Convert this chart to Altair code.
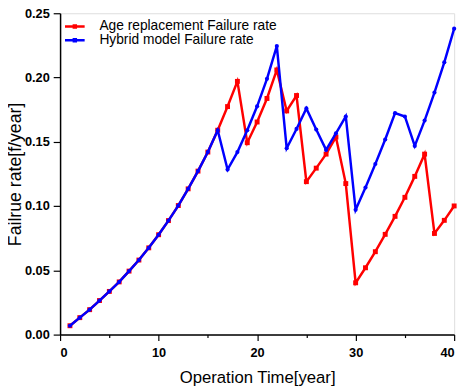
import altair as alt
import pandas as pd

years = list(range(1, 41))
common = [0.0069, 0.0132, 0.0194, 0.0265, 0.0336, 0.0410, 0.0494, 0.0580,
          0.0675, 0.0777, 0.0887, 0.1004, 0.1134, 0.1272, 0.1420, 0.1590]
age_tail = [0.1774, 0.1970, 0.1493, 0.1654, 0.1837, 0.2059, 0.1740, 0.1860,
            0.1190, 0.1295, 0.1404, 0.1537, 0.1175, 0.0403, 0.0520, 0.0645,
            0.0780, 0.0920, 0.1068, 0.1231, 0.1404, 0.0787, 0.0889, 0.1001]
hyb_tail = [0.1284, 0.1420, 0.1590, 0.1776, 0.1990, 0.2245, 0.1450, 0.1600,
            0.1760, 0.1595, 0.1437, 0.1565, 0.1697, 0.0971, 0.1144, 0.1327,
            0.1518, 0.1723, 0.1697, 0.1468, 0.1665, 0.1883, 0.2118, 0.2380]
age_rate = common + age_tail
hyb_rate = common + hyb_tail

series = ["Age replacement Failure rate", "Hybrid model Failure rate"]
colors = ["#ff0000", "#0000ff"]
x_ticks = [0, 5, 10, 15, 20, 25, 30, 35, 40]
y_ticks = [0.0, 0.025, 0.05, 0.075, 0.10, 0.125, 0.15, 0.175, 0.20, 0.225, 0.25]

df = pd.DataFrame({
    "year": years * 2,
    "rate": age_rate + hyb_rate,
    "series": [series[0]] * 40 + [series[1]] * 40,
})
df_age = df[df.series == series[0]]
df_hyb = df[df.series == series[1]]

FONT = "Liberation Sans"
xscale = alt.Scale(domain=[0, 40], nice=False, zero=False)
yscale = alt.Scale(domain=[0, 0.25], nice=False)
cscale = alt.Scale(domain=series, range=colors)

x_major = "datum.value % 10 === 0"
y_major = "abs(datum.value * 20 - round(datum.value * 20)) < 0.001"

xaxis = alt.Axis(values=x_ticks, title="Operation Time[year]",
                 labelExpr=f"{x_major} ? format(datum.value, 'd') : ''",
                 labelOverlap=False,
                 labelFont=FONT, labelFontSize=13, labelFontWeight="bold",
                 labelColor="black", tickColor="black",
                 tickSize={"condition": {"test": x_major, "value": 6}, "value": 3},
                 tickWidth=1.2,
                 domainColor="black", domainWidth=1.5, labelPadding=6,
                 titleFont=FONT, titleFontSize=17, titleFontWeight="normal",
                 titleColor="black", titleBaseline="alphabetic",
                 titleAlign="center", titleX=200.5, titleY=48.5, grid=False)
yaxis = alt.Axis(values=y_ticks, title="Failrue rate[f/year]",
                 labelExpr=f"{y_major} ? format(datum.value, '.2f') : ''",
                 labelOverlap=False,
                 labelFont=FONT, labelFontSize=13, labelFontWeight="bold",
                 labelColor="black", tickColor="black",
                 tickSize={"condition": {"test": y_major, "value": 7}, "value": 3},
                 tickWidth=1.2,
                 domainColor="black", domainWidth=1.5, labelPadding=4,
                 titleFont=FONT, titleFontSize=18, titleFontWeight="normal",
                 titleColor="black", titleBaseline="alphabetic",
                 titleAlign="center", titleAngle=270, titleX=-40, titleY=163.5,
                 grid=False)

legend = alt.Legend(title=None, orient="none", legendX=8, legendY=6.5,
                    symbolType="M-2,0H2M-0.2,-0.2H0.2V0.2H-0.2Z",
                    symbolSize=100, symbolStrokeWidth=2.5,
                    labelFont=FONT, labelFontSize=14, labelColor="black",
                    labelLimit=400, labelOffset=18, rowPadding=0, padding=0)

red_line = alt.Chart(df_age).mark_line(strokeWidth=2.5).encode(
    x=alt.X("year:Q", scale=xscale, axis=xaxis),
    y=alt.Y("rate:Q", scale=yscale, axis=yaxis),
    color=alt.Color("series:N", scale=cscale, legend=legend),
)
red_pts = alt.Chart(df_age).mark_point(shape="square", filled=True, size=25, opacity=1).encode(
    x="year:Q", y="rate:Q",
    color=alt.Color("series:N", scale=cscale, legend=None),
)
blue_line = alt.Chart(df_hyb).mark_line(strokeWidth=2.5).encode(
    x="year:Q", y="rate:Q",
    color=alt.Color("series:N", scale=cscale, legend=legend),
)
blue_pts = alt.Chart(df_hyb).mark_point(shape="circle", filled=True, size=18, opacity=1).encode(
    x="year:Q", y="rate:Q",
    color=alt.Color("series:N", scale=cscale, legend=None),
)

chart = alt.layer(red_line, red_pts, blue_line, blue_pts).properties(
    width=401, height=327,
    autosize=alt.AutoSizeParams(type="none"),
    padding={"left": 53, "top": 2, "right": 9, "bottom": 52},
).configure_view(
    stroke="black", strokeWidth=1.5
).configure(background="white")

chart.save("out.html", embed_options={"renderer": "svg", "actions": False})
